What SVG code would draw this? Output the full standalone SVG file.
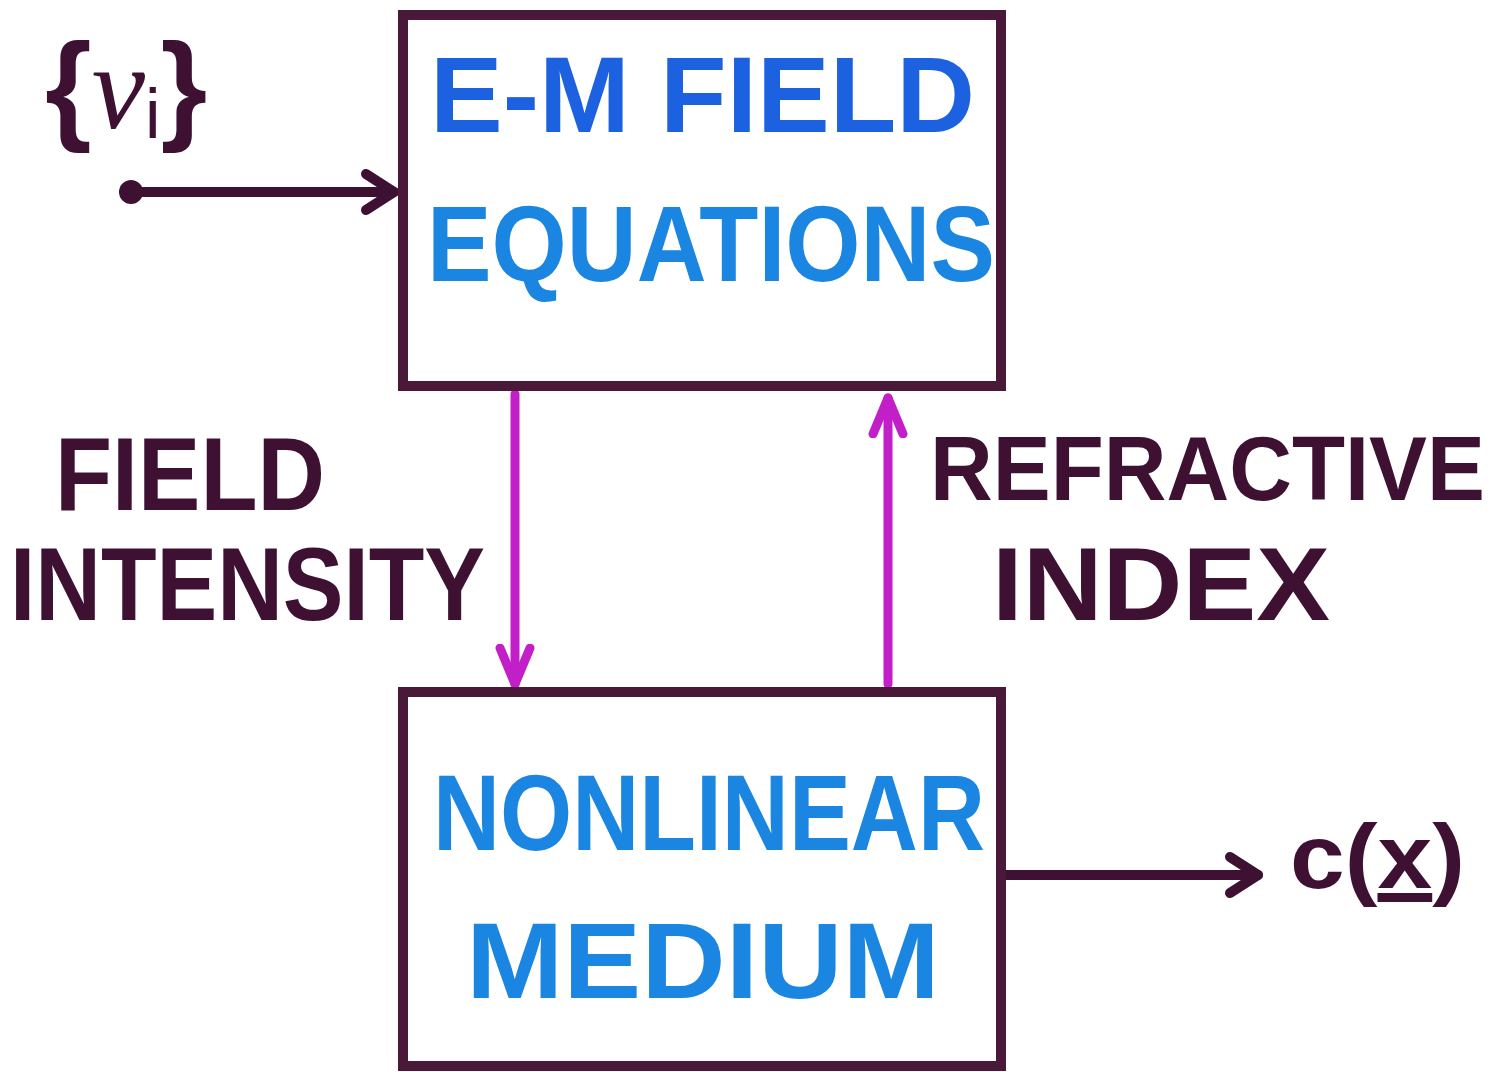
<svg xmlns="http://www.w3.org/2000/svg" width="1509" height="1072" viewBox="0 0 1509 1072">
<style>
.box{fill:#ffffff;stroke:#4a1838;stroke-width:10}
.lbl{font-family:"Liberation Sans",Arial,sans-serif;font-weight:bold;fill:#3e1032}
.blue{font-family:"Liberation Sans",Arial,sans-serif;font-weight:bold;fill:#1c62e0}
.blue2{font-family:"Liberation Sans",Arial,sans-serif;font-weight:bold;fill:#1a86e2}
.dark{fill:none;stroke:#3e1032;stroke-width:10;stroke-linecap:round}
.mag{fill:none;stroke:#c21fc8;stroke-width:9;stroke-linecap:round}
</style>
<defs>
<marker id="hd" viewBox="-40 -40 80 80" refX="0" refY="0" markerWidth="80" markerHeight="80" markerUnits="userSpaceOnUse" orient="auto">
<path d="M-28,-18 L0,0 L-28,18" fill="none" stroke="#3e1032" stroke-width="10" stroke-linecap="round" stroke-linejoin="round"/>
</marker>
<marker id="hm" viewBox="-40 -40 80 80" refX="0" refY="0" markerWidth="80" markerHeight="80" markerUnits="userSpaceOnUse" orient="auto">
<path d="M-36,-15 L0,0 L-36,15" fill="none" stroke="#c21fc8" stroke-width="9" stroke-linecap="round" stroke-linejoin="round"/>
</marker>
</defs>
<rect width="1509" height="1072" fill="#ffffff"/>
<g id="connectors">
<circle cx="131" cy="192" r="12" fill="#3e1032"/>
<line class="dark" x1="131" y1="192" x2="394" y2="192" marker-end="url(#hd)"/>
<line class="mag" x1="515" y1="394" x2="515" y2="684" marker-end="url(#hm)"/>
<line class="mag" x1="888" y1="684" x2="888" y2="398" marker-end="url(#hm)"/>
<line class="dark" x1="1003" y1="875" x2="1258" y2="875" marker-end="url(#hd)"/>
</g>
<g id="node-em">
<rect class="box" x="403" y="15" width="598" height="371"/>
<text class="blue" x="430" y="132" font-size="108" textLength="545" lengthAdjust="spacingAndGlyphs">E-M FIELD</text>
<text class="blue2" x="427" y="281" font-size="108" textLength="568" lengthAdjust="spacingAndGlyphs">EQUATIONS</text>
</g>
<g id="node-medium">
<rect class="box" x="403" y="692" width="598" height="374"/>
<text class="blue2" x="433" y="850" font-size="108" textLength="552" lengthAdjust="spacingAndGlyphs">NONLINEAR</text>
<text class="blue2" x="466" y="998" font-size="108" textLength="474" lengthAdjust="spacingAndGlyphs">MEDIUM</text>
</g>
<g id="label-vi">
<text class="lbl" x="45" y="128" font-size="120">{<tspan font-style="italic" font-family="Liberation Serif,serif" font-weight="normal">v</tspan><tspan font-size="70" dy="10" font-weight="normal">i</tspan><tspan dy="-10">}</tspan></text>
</g>
<g id="label-field-intensity">
<text class="lbl" x="55" y="510" font-size="104" textLength="270" lengthAdjust="spacingAndGlyphs">FIELD</text>
<text class="lbl" x="10" y="620" font-size="104" textLength="475" lengthAdjust="spacingAndGlyphs">INTENSITY</text>
</g>
<g id="label-refractive-index">
<text class="lbl" x="930" y="500" font-size="90" textLength="555" lengthAdjust="spacingAndGlyphs">REFRACTIVE</text>
<text class="lbl" x="992" y="620" font-size="104" textLength="338" lengthAdjust="spacingAndGlyphs">INDEX</text>
</g>
<g id="label-cx">
<text class="lbl" x="1290" y="888" font-size="90" textLength="175" lengthAdjust="spacingAndGlyphs">c(<tspan text-decoration="underline">x</tspan>)</text>
</g>
</svg>
